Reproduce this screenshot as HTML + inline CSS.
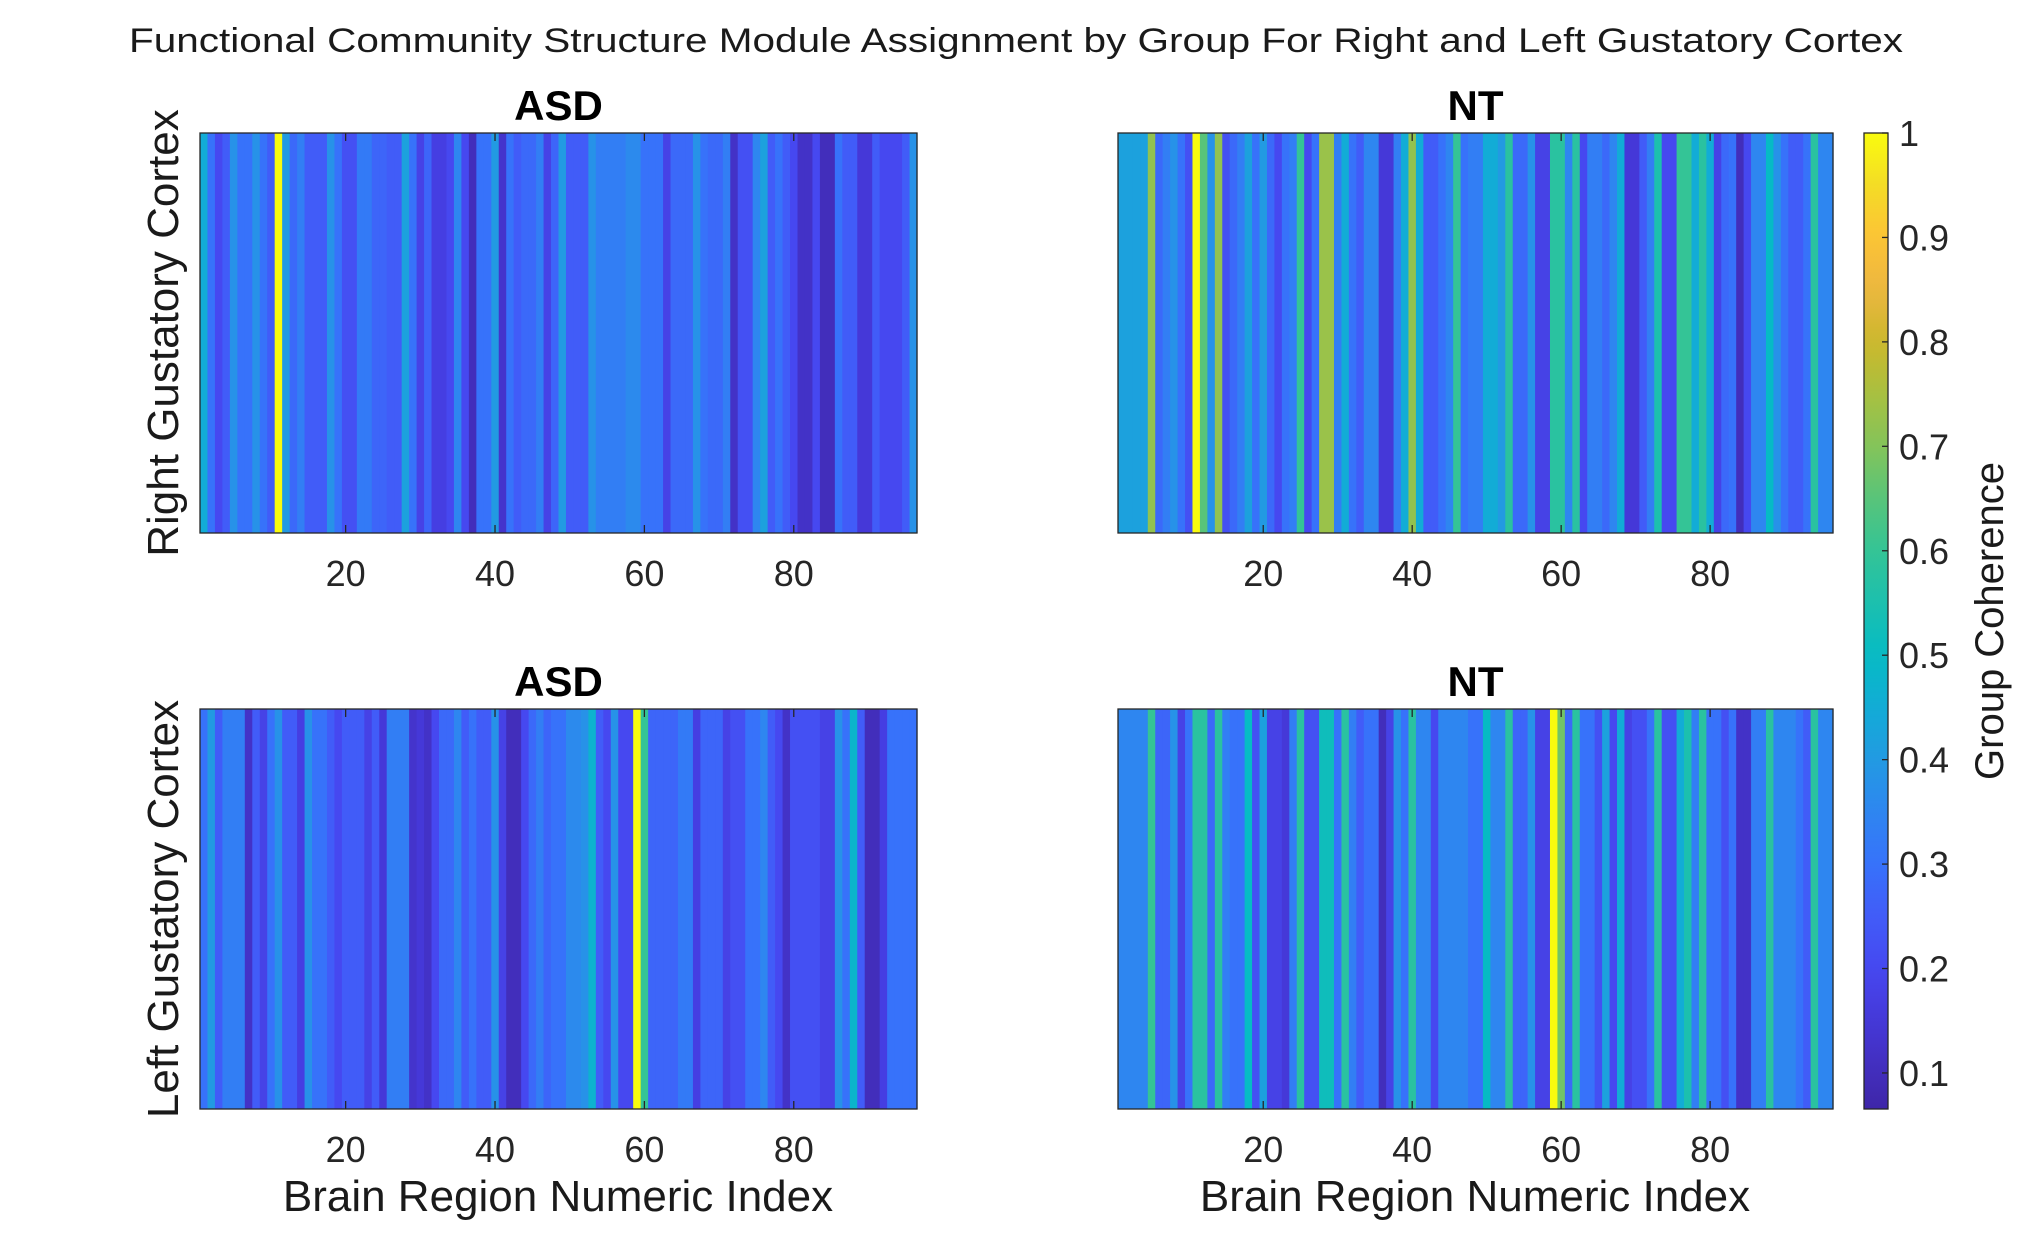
<!DOCTYPE html>
<html><head><meta charset="utf-8">
<style>
html,body{margin:0;padding:0;background:#fff;}
svg{display:block;font-family:"Liberation Sans",Arial,sans-serif;}
</style></head>
<body>
<svg id="fig" width="2032" height="1246" viewBox="0 0 2032 1246">
<text x="1016" y="52" font-size="34" text-anchor="middle" fill="#1a1a1a" textLength="1774" lengthAdjust="spacingAndGlyphs">Functional Community Structure Module Assignment by Group For Right and Left Gustatory Cortex</text>
<g id="panels"></g>
<text transform="translate(178,333) rotate(-90)" font-size="44" text-anchor="middle" fill="#1a1a1a">Right Gustatory Cortex</text>
<text transform="translate(178,909) rotate(-90)" font-size="44" text-anchor="middle" fill="#1a1a1a">Left Gustatory Cortex</text>
<text x="558" y="1211" font-size="44" text-anchor="middle" fill="#1a1a1a">Brain Region Numeric Index</text>
<text x="1475" y="1211" font-size="44" text-anchor="middle" fill="#1a1a1a">Brain Region Numeric Index</text>
<g id="cbar"></g>
<text transform="translate(2003,621) rotate(-90)" font-size="40" text-anchor="middle" fill="#1a1a1a">Group Coherence</text>
</svg>
<script>
const asdRight=[0.45,0.3,0.2,0.25,0.38,0.3,0.3,0.38,0.3,0.25,1.0,0.4,0.28,0.33,0.25,0.25,0.25,0.38,0.3,0.22,0.22,0.32,0.32,0.27,0.27,0.25,0.25,0.42,0.3,0.18,0.27,0.17,0.17,0.2,0.35,0.2,0.1,0.3,0.3,0.4,0.13,0.3,0.25,0.28,0.28,0.33,0.18,0.27,0.4,0.25,0.25,0.25,0.38,0.33,0.33,0.33,0.33,0.36,0.36,0.3,0.3,0.3,0.18,0.28,0.28,0.28,0.38,0.3,0.28,0.28,0.33,0.12,0.22,0.22,0.35,0.42,0.25,0.3,0.25,0.2,0.12,0.12,0.2,0.1,0.1,0.3,0.25,0.25,0.15,0.15,0.25,0.2,0.2,0.2,0.25,0.38];
const ntRight=[0.42,0.42,0.42,0.42,0.72,0.28,0.33,0.38,0.3,0.22,1.0,0.65,0.38,0.72,0.22,0.28,0.33,0.42,0.3,0.4,0.28,0.2,0.3,0.33,0.6,0.2,0.3,0.73,0.73,0.33,0.45,0.3,0.25,0.35,0.35,0.15,0.15,0.33,0.45,0.72,0.45,0.25,0.25,0.3,0.35,0.6,0.3,0.33,0.33,0.45,0.45,0.4,0.58,0.28,0.28,0.38,0.18,0.18,0.58,0.58,0.35,0.58,0.2,0.33,0.33,0.28,0.35,0.45,0.15,0.15,0.25,0.33,0.55,0.2,0.2,0.6,0.6,0.45,0.58,0.45,0.18,0.28,0.3,0.1,0.2,0.35,0.35,0.5,0.38,0.3,0.25,0.25,0.3,0.58,0.35,0.35];
const asdLeft=[0.3,0.4,0.25,0.33,0.33,0.33,0.12,0.25,0.18,0.3,0.38,0.25,0.25,0.17,0.38,0.3,0.3,0.25,0.2,0.25,0.25,0.25,0.18,0.25,0.15,0.33,0.33,0.33,0.13,0.15,0.12,0.2,0.28,0.28,0.35,0.25,0.3,0.25,0.25,0.38,0.18,0.1,0.1,0.2,0.28,0.33,0.27,0.3,0.3,0.36,0.36,0.38,0.47,0.25,0.2,0.38,0.2,0.2,1.0,0.6,0.27,0.27,0.27,0.27,0.32,0.32,0.17,0.27,0.27,0.27,0.18,0.22,0.22,0.3,0.3,0.35,0.25,0.2,0.12,0.22,0.22,0.22,0.22,0.18,0.18,0.38,0.3,0.48,0.25,0.1,0.1,0.17,0.3,0.3,0.3,0.3];
const ntLeft=[0.35,0.35,0.35,0.35,0.6,0.27,0.27,0.38,0.18,0.3,0.58,0.58,0.28,0.58,0.33,0.3,0.3,0.5,0.22,0.42,0.18,0.18,0.15,0.33,0.58,0.22,0.22,0.52,0.52,0.3,0.58,0.33,0.25,0.3,0.3,0.1,0.18,0.38,0.3,0.58,0.35,0.35,0.2,0.35,0.35,0.35,0.35,0.3,0.3,0.5,0.35,0.35,0.58,0.27,0.27,0.38,0.18,0.18,1.0,0.68,0.28,0.58,0.3,0.3,0.22,0.42,0.2,0.45,0.18,0.22,0.22,0.3,0.58,0.22,0.22,0.45,0.55,0.33,0.58,0.3,0.3,0.22,0.3,0.12,0.12,0.33,0.33,0.58,0.35,0.35,0.35,0.3,0.25,0.58,0.35,0.35];
const xTicks=[20,40,60,80];
const cbarTicks=[0.1,0.2,0.3,0.4,0.5,0.6,0.7,0.8,0.9,1];
const cbarTickLabels=["0.1","0.2","0.3","0.4","0.5","0.6","0.7","0.8","0.9","1"];
const cmin=0.0655, cmax=1;

const stops=[[0.0655,'#3e26a8'],[0.1,'#422ebb'],[0.15,'#4538d8'],[0.2,'#4648f0'],[0.25,'#415cf8'],[0.3,'#3772fa'],[0.35,'#2e86f0'],[0.4,'#229ae2'],[0.45,'#12acd6'],[0.5,'#06bbc4'],[0.55,'#1cc0ae'],[0.6,'#34c496'],[0.65,'#58c47a'],[0.7,'#84c45a'],[0.75,'#a8c040'],[0.8,'#ccb82c'],[0.85,'#ecb640'],[0.9,'#fcc436'],[0.95,'#f4dc26'],[1.0,'#f9fb0e']];
function hex(h){return [1,3,5].map(i=>parseInt(h.substr(i,2),16));}
function color(v){
  v=Math.max(cmin,Math.min(cmax,v));
  for(let i=0;i<stops.length-1;i++){
    const a=stops[i],b=stops[i+1];
    if(v<=b[0]){const t=(v-a[0])/(b[0]-a[0]);const ca=hex(a[1]),cb=hex(b[1]);
      return 'rgb('+ca.map((c,k)=>Math.round(c+(cb[k]-c)*t)).join(',')+')';}
  }
  return stops[stops.length-1][1];
}
const NS='http://www.w3.org/2000/svg';
function mk(tag,attrs,parent){const e=document.createElementNS(NS,tag);for(const k in attrs)e.setAttribute(k,attrs[k]);parent.appendChild(e);return e;}

const panels=[
  {data:asdRight,x:200,y:133,w:717,h:400,title:'ASD',name:'panel-asd-right'},
  {data:ntRight,x:1118,y:133,w:715,h:400,title:'NT',name:'panel-nt-right'},
  {data:asdLeft,x:200,y:709,w:717,h:400,title:'ASD',name:'panel-asd-left'},
  {data:ntLeft,x:1118,y:709,w:715,h:400,title:'NT',name:'panel-nt-left'}
];
const root=document.getElementById('panels');
panels.forEach(p=>{
  const g=mk('g',{},root);
  
  
  const n=p.data.length;
  const xs=i=>p.x+(i-0.5)/n*p.w;
  p.data.forEach((v,idx)=>{
    const i=idx+1;
    const x0=xs(i-0.5), x1=xs(i+0.5);
    const r=mk('rect',{x:x0,y:p.y,width:(x1-x0)+0.6,height:p.h,fill:color(v)},g);
    
    
  });
  const fr=mk('rect',{x:p.x,y:p.y,width:p.w,height:p.h,fill:'none',stroke:'#262626','stroke-width':1.3},g);
  
  
  xTicks.forEach(t=>{
    const x=xs(t);
    const l1=mk('line',{x1:x,x2:x,y1:p.y+p.h,y2:p.y+p.h-8,stroke:'#262626','stroke-width':1.3},g);
    
    
    const l2=mk('line',{x1:x,x2:x,y1:p.y,y2:p.y+8,stroke:'#262626','stroke-width':1.3},g);
    
    
    const tl=mk('text',{x:x,y:p.y+p.h+53,'font-size':36,'text-anchor':'middle',fill:'#262626'},g);
    tl.textContent=String(t);
    
    
  });
  const tt=mk('text',{x:p.x+p.w/2,y:p.y-13,'font-size':42,'font-weight':'bold','text-anchor':'middle',fill:'#000'},g);
  tt.textContent=p.title;
  
  
});

const cb=document.getElementById('cbar');
const cbX=1864,cbW=24,cbTop=133,cbBot=1109;
const cy=v=>cbBot-(v-cmin)/(cmax-cmin)*(cbBot-cbTop);
const defs=mk('defs',{},cb);
const grad=mk('linearGradient',{id:'parula',x1:0,y1:1,x2:0,y2:0},defs);
for(let k=0;k<=40;k++){const v=cmin+(cmax-cmin)*k/40;mk('stop',{offset:(k/40),'stop-color':color(v)},grad);}
const cbr=mk('rect',{x:cbX,y:cbTop,width:cbW,height:cbBot-cbTop,fill:'url(#parula)',stroke:'#262626','stroke-width':1.3},cb);


cbarTicks.forEach((t,k)=>{
  const y=cy(t);
  const l=mk('line',{x1:cbX+cbW,x2:cbX+cbW-6,y1:y,y2:y,stroke:'#262626','stroke-width':1.3},cb);
  
  
  const tx=mk('text',{x:cbX+35,y:y+13,'font-size':36,fill:'#262626'},cb);
  tx.textContent=cbarTickLabels[k];
  
  
});
</script>
</body></html>
